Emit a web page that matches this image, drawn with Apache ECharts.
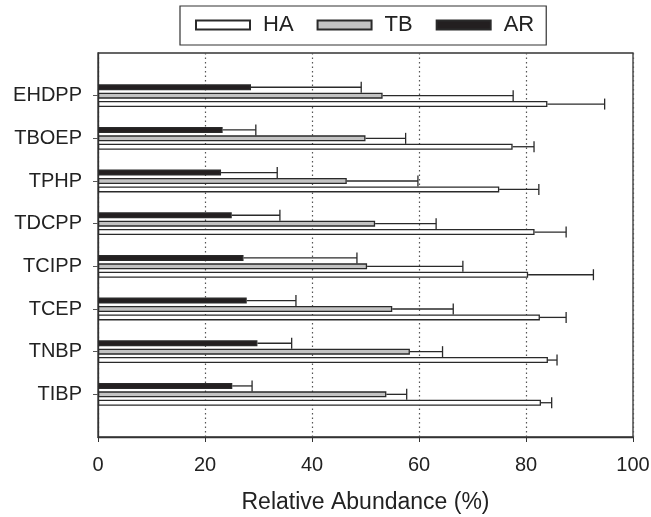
<!DOCTYPE html>
<html><head><meta charset="utf-8">
<script src="https://cdn.jsdelivr.net/npm/echarts@6/dist/echarts.min.js"></script>
<style>html,body{margin:0;padding:0;background:#fff}#c{width:651px;height:517px}</style>
</head><body><div id="c"></div>
<script>
// categories listed bottom to top
const categories = ['TIBP','TNBP','TCEP','TCIPP','TDCPP','TPHP','TBOEP','EHDPP'];
const xTicks = [0,20,40,60,80,100];
const haMean = [82.8, 84.1, 82.6, 80.4, 81.6, 75.0, 77.5, 84.0];
const haSD   = [2.0, 1.7, 4.9, 12.2, 5.9, 7.4, 4.0, 10.7];
const tbMean = [53.9, 58.3, 55.0, 50.3, 51.8, 46.5, 50.0, 53.2];
const tbSD   = [3.8, 6.1, 11.4, 17.9, 11.4, 13.3, 7.5, 24.4];
const arMean = [25.1, 29.8, 27.8, 27.2, 25.0, 23.0, 23.3, 28.6];
const arSD   = [3.7, 6.4, 9.2, 21.2, 9.0, 10.5, 6.2, 20.6];

const FONT = 'Liberation Sans, Arial, Helvetica, sans-serif';
const BAR_W = 6, GAP = 0.4;
const STEP = BAR_W * (1 + GAP);

const yCats = [''].concat(categories, ['']);
function pad(a){ return [null].concat(a, [null]); }

function errSeries(name, mean, sd, off){
  return {
    type: 'custom', name: name, z: 5, silent: true,
    encode: { x: [1, 2], y: 0 },
    data: mean.map((m, i) => [i + 1, m, m + sd[i]]),
    renderItem: function(params, api){
      const ci = api.value(0), m = api.value(1), e = api.value(2);
      const p0 = api.coord([m, ci]);
      const p1 = api.coord([e, ci]);
      const y = p0[1] + off;
      const st = { stroke: '#2a2a2a', lineWidth: 1.3 };
      return { type: 'group', children: [
        { type: 'line', shape: { x1: p0[0], y1: y, x2: p1[0], y2: y }, style: st },
        { type: 'line', shape: { x1: p1[0], y1: y - 5.5, x2: p1[0], y2: y + 5.5 }, style: st }
      ]};
    }
  };
}

const bordered = { borderColor: '#2a2a2a', borderWidth: 1.3 };
const option = {
  animation: false,
  backgroundColor: '#fff',
  textStyle: { fontFamily: FONT },
  legend: {
    data: ['HA', 'TB', 'AR'],
    left: 180, top: 6,
    padding: [8, 12, 9, 15],
    borderColor: '#333', borderWidth: 1.2,
    itemWidth: 54, itemHeight: 9, itemGap: 23,
    icon: 'rect',
    textStyle: { fontSize: 22, color: '#222', fontFamily: FONT, padding: [0, 0, 0, 8] }
  },
  grid: { left: 98, right: 18, top: 53, bottom: 80, show: true, borderColor: '#333', borderWidth: 1.3,
          containLabel: false, outerBoundsMode: 'none' },
  xAxis: {
    type: 'value', min: 0, max: 100, interval: 20,
    name: 'Relative Abundance (%)', nameLocation: 'middle', nameGap: 54,
    nameTextStyle: { fontSize: 23, color: '#222', fontFamily: FONT },
    axisLine: { show: true, lineStyle: { color: '#333', width: 1.3 } },
    axisTick: { show: true, length: 5, lineStyle: { color: '#333' } },
    axisLabel: { fontSize: 20, color: '#222', margin: 18, fontFamily: FONT,
                 formatter: v => xTicks.indexOf(v) >= 0 ? String(v) : '' },
    splitLine: { show: true, lineStyle: { color: '#555', type: [1.5, 3], width: 1.2 } }
  },
  yAxis: {
    type: 'category', data: yCats, boundaryGap: false,
    axisLine: { show: true, lineStyle: { color: '#333', width: 1.3 } },
    axisTick: { show: true, length: 5, lineStyle: { color: '#555' }, interval: (i, v) => v !== '' },
    axisLabel: { fontSize: 20, color: '#222', margin: 16, fontFamily: FONT, interval: 0 },
    splitLine: { show: false }
  },
  series: [
    { type: 'bar', name: 'AR', data: pad(arMean), barWidth: BAR_W, barGap: (GAP*100) + '%',
      itemStyle: Object.assign({ color: '#231f20' }, bordered) },
    { type: 'bar', name: 'TB', data: pad(tbMean), barWidth: BAR_W, barGap: (GAP*100) + '%',
      itemStyle: Object.assign({ color: '#c3c3c3' }, bordered) },
    { type: 'bar', name: 'HA', data: pad(haMean), barWidth: BAR_W, barGap: (GAP*100) + '%',
      itemStyle: Object.assign({ color: '#ffffff' }, bordered) },
    errSeries('errAR', arMean, arSD, -STEP),
    errSeries('errTB', tbMean, tbSD, 0),
    errSeries('errHA', haMean, haSD, STEP)
  ]
};
const chart = echarts.init(document.getElementById('c'), null, { renderer: 'canvas' });
chart.setOption(option);
</script>
</body></html>
